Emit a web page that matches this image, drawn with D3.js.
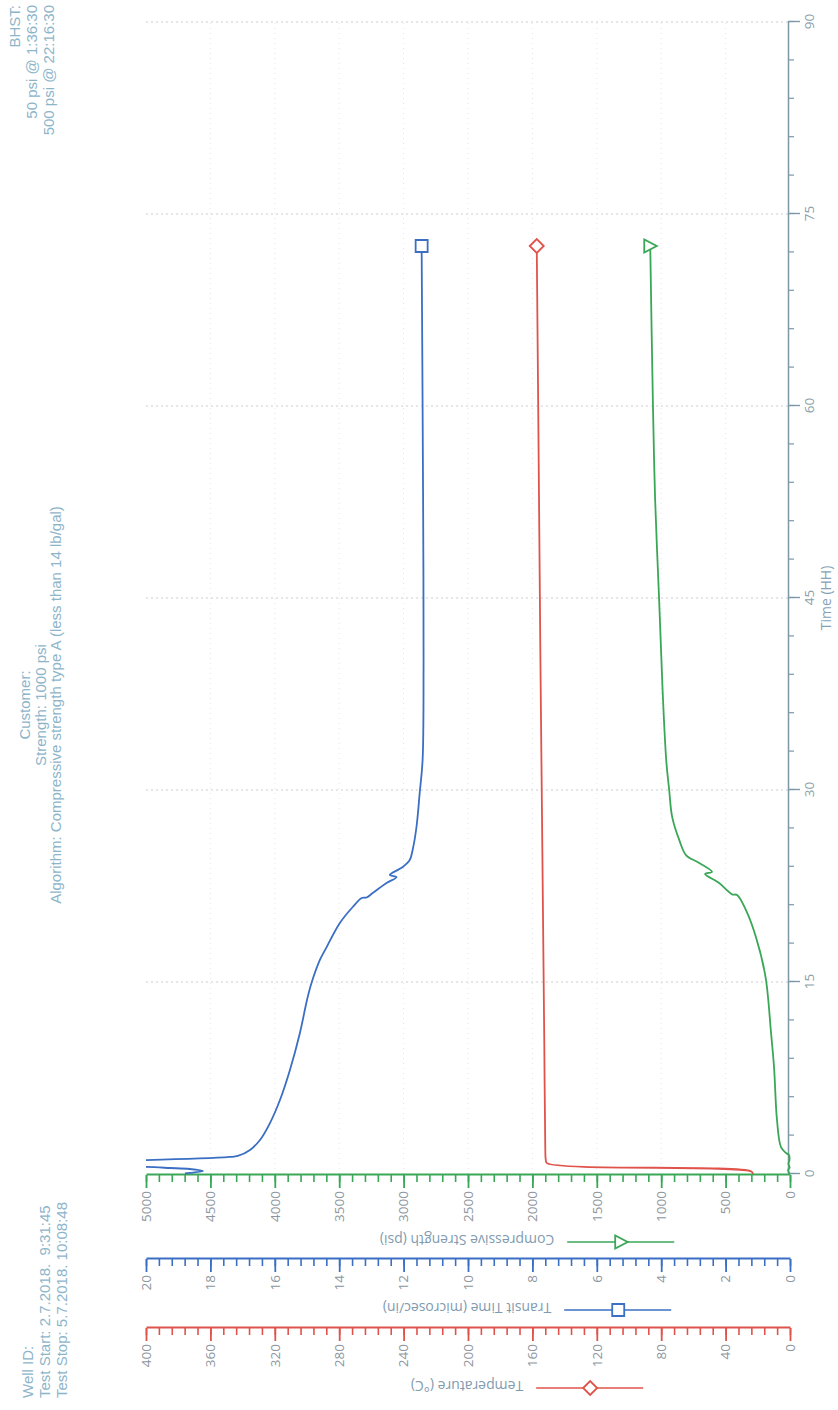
<!DOCTYPE html>
<html>
<head>
<meta charset="utf-8">
<script src="https://cdn.jsdelivr.net/npm/d3@7"></script>
<style>
  html, body { margin: 0; padding: 0; background: #ffffff; }
  svg { display: block; }
</style>
</head>
<body>
<svg id="chart" width="838" height="1410"></svg>
<script>
// ---------------- DATA ----------------
const headerLeft = ["Well ID:", "Test Start: 2.7.2018.  9:31:45", "Test Stop: 5.7.2018. 10:08:48"];
const headerCenter = ["Customer:", "Strength: 1000 psi", "Algorithm: Compressive strength type A (less than 14 lb/gal)"];
const headerRight = ["BHST:", "50 psi @ 1:36:30", "500 psi @ 22:16:30"];

const timeTicks = [0, 15, 30, 45, 60, 75, 90];
const strengthTicks = [0, 500, 1000, 1500, 2000, 2500, 3000, 3500, 4000, 4500, 5000];
const transitTicks = [0, 2, 4, 6, 8, 10, 12, 14, 16, 18, 20];
const tempTicks = [0, 40, 80, 120, 160, 200, 240, 280, 320, 360, 400];

const timeAxisTitle = "Time (HH)";
const strengthTitle = "Compressive Strength (psi)";
const transitTitle = "Transit Time (microsec/in)";
const tempTitle = "Temperature (\u00B0C)";

// Temperature (°C)
const timeTemp = [0, 0.2, 0.85, 1.1, 2, 10, 20, 30, 40, 50, 60, 72.5];
const temperature = [23, 24, 151, 151.7, 152, 152.6, 153.4, 154.2, 155, 155.7, 156.4, 157.3];

// Transit time (microsec/in)
const timeTransit = [0.04, 0.08, 0.23, 0.39, 0.47, 0.55, 0.6, 1.05, 1.09, 1.33, 1.41, 1.88, 2.66, 3.98,
  5.78, 8.13, 11.02, 13.6, 14.92, 16.72, 17.73, 19.61, 20.86, 21.56, 21.6, 21.95, 22.73, 23.2,
  23.36, 23.98, 24.53, 25.31, 27.11, 29.77, 32.34, 40, 50, 60, 72.5];
const transitTime = [18.79, 18.64, 18.23, 18.64, 19.26, 20.0, 21.5, 21.5, 20.0, 17.40, 17.15, 16.77, 16.46, 16.15,
  15.84, 15.53, 15.22, 15.0, 14.86, 14.6, 14.39, 13.98, 13.58, 13.30, 13.15, 12.96, 12.53, 12.22,
  12.43, 12.03, 11.81, 11.72, 11.60, 11.50, 11.41, 11.38, 11.39, 11.41, 11.44];

// Compressive strength (psi)
const timeStrength = [0, 0.3, 0.5, 0.8, 1.1, 1.48, 1.64, 2.1, 4.22, 8.36, 11.0, 15.4, 18.5, 20.6, 21.8, 21.85,
  22.73, 23.44, 23.6, 24.3, 24.9, 26.1, 27.9, 30.0, 32.34, 38, 44.84, 52.66, 60, 72.5];
const strength = [2, 15, 3, 12, 4, 8, 31, 70, 101, 124, 147, 190, 264, 341, 411, 450,
  550, 659, 605, 705, 806, 860, 915, 938, 961, 990, 1016, 1047, 1064, 1085];

// ---------------- LAYOUT (unrotated frame: 1410 wide x 838 tall, then rotated -90deg) ----------------
const FW = 1410;
const svg = d3.select("#chart");
const g = svg.append("g").attr("transform", `translate(0,${FW}) rotate(-90)`);

const colors = { temp: "#e0534b", transit: "#3b6fc3", strength: "#3aa757" };
const tickTextColor = "#8d969e";
const titleColor = "#7f9bb0";
const headerColor = "#8db5ca";
const timeAxisColor = "#7d98a7";
const labelFont = "'Open Sans', 'Liberation Sans', Arial, sans-serif";
const headerFont = "'Liberation Sans', Arial, sans-serif";

const x = d3.scaleLinear().domain([0, 90]).range([236, 1388]);
const yS = d3.scaleLinear().domain([0, 5000]).range([790, 146]);
const yT = d3.scaleLinear().domain([0, 20]).range([790, 146]);
const yC = d3.scaleLinear().domain([0, 400]).range([790, 146]);

// ---------------- HEADERS ----------------
function header(lines, xPos, y0, step, anchor) {
  g.append("g").selectAll("text").data(lines).join("text")
    .attr("x", xPos).attr("y", (d, i) => y0 + i * step)
    .attr("text-anchor", anchor)
    .attr("font-family", headerFont).attr("font-size", 15)
    .attr("fill", headerColor)
    .style("white-space", "pre")
    .text(d => d);
}
header(headerLeft, 12, 33, 17, "start");
header(headerCenter, 705, 30, 15.5, "middle");
header(headerRight, 1405, 20, 17, "end");

// ---------------- GRID ----------------
const grid = g.append("g");
grid.selectAll("line.tg").data(timeTicks.filter(t => t > 0)).join("line")
  .attr("class", "tg")
  .attr("x1", d => x(d)).attr("x2", d => x(d))
  .attr("y1", yS(5000)).attr("y2", yS(0))
  .attr("stroke", "#c9cdd0").attr("stroke-width", 1).attr("stroke-dasharray", "2,3");
grid.selectAll("line.vg").data(strengthTicks.filter(v => v > 0 && v < 5000)).join("line")
  .attr("class", "vg")
  .attr("x1", x(0)).attr("x2", x(90))
  .attr("y1", d => yS(d)).attr("y2", d => yS(d))
  .attr("stroke", "#e3e6e8").attr("stroke-width", 1).attr("stroke-dasharray", "1,4");

// ---------------- VALUE AXES ----------------
function valueAxis(scale, ticks, minorStep, axX, color) {
  const minors = d3.range(scale.domain()[0], scale.domain()[1] + minorStep / 2, minorStep);
  const gm = g.append("g").attr("transform", `translate(${axX},0)`)
    .call(d3.axisLeft(scale).tickValues(minors).tickSize(7).tickSizeOuter(0).tickFormat(""));
  gm.select(".domain").remove();
  gm.selectAll("line").attr("stroke", color).attr("stroke-width", 1.6);
  const ga = g.append("g").attr("transform", `translate(${axX},0)`)
    .call(d3.axisLeft(scale).tickValues(ticks).tickSize(13).tickSizeOuter(0).tickPadding(3)
      .tickFormat(d3.format("d")));
  ga.select(".domain").attr("stroke", color).attr("stroke-width", 2.2);
  ga.selectAll(".tick line").attr("stroke", color).attr("stroke-width", 1.8);
  ga.selectAll(".tick text").attr("fill", tickTextColor)
    .attr("font-family", labelFont).attr("font-size", 13.5);
}
valueAxis(yS, strengthTicks, 100, 235, colors.strength);
valueAxis(yT, transitTicks, 0.4, 151, colors.transit);
valueAxis(yC, tempTicks, 8, 82, colors.temp);

// ---------------- TIME AXIS ----------------
const timeAxisY = 788;
const tmin = g.append("g").attr("transform", `translate(0,${timeAxisY})`)
  .call(d3.axisBottom(x).tickValues(d3.range(0, 91, 3)).tickSize(6).tickSizeOuter(0).tickFormat(""));
tmin.select(".domain").remove();
tmin.selectAll("line").attr("stroke", timeAxisColor).attr("stroke-width", 1.2);
const tax = g.append("g").attr("transform", `translate(0,${timeAxisY})`)
  .call(d3.axisBottom(x).tickValues(timeTicks).tickSize(12).tickSizeOuter(0).tickPadding(4)
    .tickFormat(d3.format("d")));
tax.select(".domain").attr("stroke", timeAxisColor).attr("stroke-width", 1.5);
tax.selectAll(".tick line").attr("stroke", timeAxisColor).attr("stroke-width", 1.4);
tax.selectAll(".tick text").attr("fill", "#8a9faa")
  .attr("font-family", labelFont).attr("font-size", 13.5);
g.append("text")
  .attr("x", (x(0) + x(90)) / 2).attr("y", 826).attr("dy", "0.35em")
  .attr("text-anchor", "middle")
  .attr("font-family", labelFont).attr("font-size", 14)
  .attr("fill", "#86a3b6")
  .text(timeAxisTitle);

// ---------------- SERIES ----------------
g.append("defs").append("clipPath").attr("id", "plotClip")
  .append("rect").attr("x", x(0) - 2).attr("y", yS(5000))
  .attr("width", x(90) - x(0) + 4).attr("height", yS(0) - yS(5000) + 3);

const plot = g.append("g").attr("clip-path", "url(#plotClip)");

function series(times, values, scale, color) {
  const pts = d3.zip(times, values);
  plot.append("path").datum(pts)
    .attr("fill", "none").attr("stroke", color).attr("stroke-width", 1.8)
    .attr("stroke-linejoin", "round")
    .attr("d", d3.line().curve(d3.curveCatmullRom.alpha(0.5))
      .x(d => x(d[0])).y(d => scale(d[1])));
  return pts[pts.length - 1];
}

function marker(sel, kind, color) {
  let d;
  if (kind === "square") d = "M-6,-6H6V6H-6Z";
  else if (kind === "diamond") d = "M0,-7L7,0L0,7L-7,0Z";
  else d = "M-6.5,-6L6.5,-6L0,6.5Z";
  sel.append("path").attr("d", d)
    .attr("fill", "#ffffff").attr("stroke", color).attr("stroke-width", 1.8);
}

const lastT = series(timeTemp, temperature, yC, colors.temp);
const lastTT = series(timeTransit, transitTime, yT, colors.transit);
const lastS = series(timeStrength, strength, yS, colors.strength);

marker(g.append("g").attr("transform", `translate(${x(lastT[0])},${yC(lastT[1])})`), "diamond", colors.temp);
marker(g.append("g").attr("transform", `translate(${x(lastTT[0])},${yT(lastTT[1])})`), "square", colors.transit);
marker(g.append("g").attr("transform", `translate(${x(lastS[0])},${yS(lastS[1])})`), "triangle", colors.strength);

// ---------------- AXIS TITLES WITH LEGEND SAMPLES ----------------
const legendCenter = 527;
function axisTitle(title, titleX, color, kind) {
  const t = g.append("text")
    .attr("font-family", labelFont).attr("font-size", 14)
    .attr("fill", titleColor).attr("dy", "0.35em")
    .attr("text-anchor", "start")
    .text(title);
  const L = t.node().getComputedTextLength();
  const start = legendCenter - (120 - L) / 2;
  t.attr("transform", `translate(${titleX},${start}) rotate(-90)`);
  const lx = titleX - 2;
  g.append("line")
    .attr("x1", lx).attr("x2", lx)
    .attr("y1", start + 13).attr("y2", start + 120)
    .attr("stroke", color).attr("stroke-width", 1.6);
  marker(g.append("g").attr("transform", `translate(${lx},${start + 67})`), kind, color);
}
axisTitle(strengthTitle, 170, colors.strength, "triangle");
axisTitle(transitTitle, 102, colors.transit, "square");
axisTitle(tempTitle, 24, colors.temp, "diamond");
</script>
</body>
</html>
